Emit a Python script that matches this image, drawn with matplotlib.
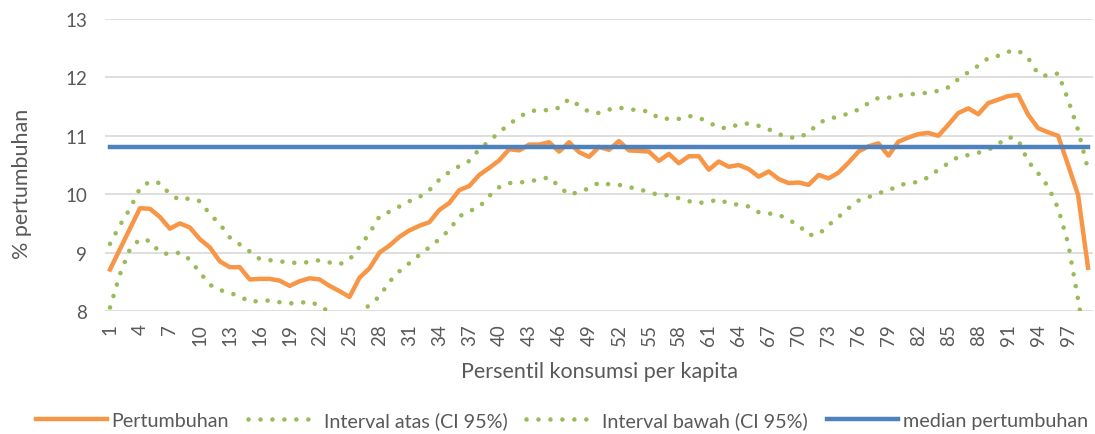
import matplotlib as mpl
mpl.use('Agg')
import matplotlib.pyplot as plt

# persentil 1..99
persentil = list(range(1, 100))

pertumbuhan = [8.71, 9.06, 9.41, 9.76, 9.75, 9.61, 9.41, 9.50, 9.43, 9.23,
               9.09, 8.85, 8.75, 8.75, 8.54, 8.55, 8.55, 8.52, 8.43, 8.51,
               8.56, 8.54, 8.43, 8.34, 8.24, 8.57, 8.73, 9.00, 9.12, 9.27,
               9.38, 9.46, 9.52, 9.73, 9.85, 10.07, 10.14, 10.33, 10.45, 10.58,
               10.77, 10.75, 10.85, 10.85, 10.89, 10.73, 10.89, 10.72, 10.64, 10.81,
               10.76, 10.91, 10.75, 10.74, 10.73, 10.57, 10.69, 10.53, 10.65, 10.65,
               10.42, 10.56, 10.47, 10.50, 10.43, 10.30, 10.39, 10.26, 10.19, 10.20,
               10.16, 10.33, 10.27, 10.37, 10.54, 10.73, 10.82, 10.87, 10.66, 10.90,
               10.97, 11.03, 11.05, 11.00, 11.19, 11.39, 11.47, 11.37, 11.56, 11.62,
               11.68, 11.70, 11.36, 11.13, 11.06, 11.00, 10.50, 9.99, 8.74]

interval_atas = [9.15, 9.47, 9.75, 10.10, 10.22, 10.19, 10.00, 9.90, 9.93, 9.88,
                 9.66, 9.49, 9.26, 9.14, 9.02, 8.89, 8.87, 8.85, 8.83, 8.82,
                 8.84, 8.87, 8.83, 8.80, 8.88, 9.10, 9.33, 9.62, 9.70, 9.79,
                 9.88, 9.95, 10.07, 10.25, 10.38, 10.48, 10.57, 10.77, 10.91, 11.06,
                 11.20, 11.32, 11.42, 11.44, 11.44, 11.48, 11.63, 11.52, 11.41, 11.39,
                 11.45, 11.48, 11.46, 11.43, 11.42, 11.30, 11.29, 11.29, 11.34, 11.31,
                 11.23, 11.14, 11.13, 11.20, 11.21, 11.17, 11.11, 11.03, 10.97, 10.97,
                 11.05, 11.22, 11.29, 11.33, 11.38, 11.45, 11.56, 11.65, 11.65, 11.69,
                 11.71, 11.72, 11.74, 11.77, 11.83, 11.97, 12.09, 12.20, 12.33, 12.37,
                 12.44, 12.46, 12.33, 12.06, 12.02, 12.07, 11.62, 11.10, 10.42]

interval_bawah = [8.06, 8.63, 9.06, 9.23, 9.20, 9.00, 8.97, 9.00, 8.88, 8.66,
                  8.45, 8.36, 8.31, 8.25, 8.16, 8.17, 8.18, 8.15, 8.13, 8.14,
                  8.16, 8.09, 7.98, 7.90, 7.88, 7.97, 8.10, 8.25, 8.50, 8.68,
                  8.82, 8.96, 9.09, 9.23, 9.39, 9.62, 9.71, 9.78, 9.97, 10.12,
                  10.19, 10.20, 10.22, 10.25, 10.29, 10.13, 9.99, 10.04, 10.10, 10.20,
                  10.17, 10.16, 10.12, 10.09, 10.03, 9.99, 9.98, 9.93, 9.88, 9.85,
                  9.87, 9.91, 9.84, 9.82, 9.79, 9.69, 9.67, 9.65, 9.56, 9.47,
                  9.30, 9.31, 9.47, 9.61, 9.76, 9.89, 9.95, 10.02, 10.06, 10.15,
                  10.19, 10.21, 10.29, 10.42, 10.53, 10.64, 10.67, 10.71, 10.76, 10.86,
                  10.98, 10.93, 10.56, 10.36, 10.13, 9.76, 9.16, 8.20, 7.20]

median_pertumbuhan = 10.81

xticks = persentil[::3]
yticks = [8, 9, 10, 11, 12, 13]

grey = '#595959'
plt.rcParams['font.family'] = ['Lato', 'DejaVu Sans']

fig = plt.figure(figsize=(10.95, 4.35), dpi=100)
ax = fig.add_axes([0.0959, 0.2828, 0.9023, 0.6712])

dots = (0, (0.01, 2.6))
ax.plot(persentil, pertumbuhan, color='#F79646', lw=3.2, solid_joinstyle='round',
        label='Pertumbuhan', zorder=4)
ax.plot(persentil, interval_atas, color='#9BBB59', lw=3.3, linestyle=dots,
        dash_capstyle='round', label='Interval atas (CI 95%)', zorder=3)
ax.plot(persentil, interval_bawah, color='#9BBB59', lw=3.3, linestyle=dots,
        dash_capstyle='round', label='Interval bawah (CI 95%)', zorder=3)
ax.plot(persentil, [median_pertumbuhan] * len(persentil), color='#4F81BD', lw=3.2,
        label='median pertumbuhan', zorder=5)

ax.set_xlim(0.5, 99.5)
ax.set_ylim(8, 13)
ax.set_yticks(yticks)
ax.set_xticks(xticks)
ax.set_xticklabels([str(t) for t in xticks], rotation=90)
ax.grid(axis='y', color='#D9D9D9', lw=1.2, zorder=0)
ax.set_axisbelow(True)
for s in ax.spines.values():
    s.set_visible(False)
ax.tick_params(axis='both', length=0, colors=grey, labelsize=13.5)
ax.tick_params(axis='y', pad=13)
ax.tick_params(axis='x', pad=9)

ax.set_xlabel('Persentil konsumsi per kapita', fontsize=15.5, color=grey)
ax.xaxis.set_label_coords(0.5, -0.17)
ax.set_ylabel('% pertumbuhan', fontsize=15.5, color=grey)
ax.yaxis.set_label_coords(-0.074, 0.44)

fig.legend(loc='lower center', bbox_to_anchor=(0.513, -0.03), ncol=4, frameon=False,
           handlelength=3.6, columnspacing=0.95, handletextpad=0.25,
           prop={'size': 14.2}, labelcolor=grey)

fig.savefig('out.png', dpi=100)
